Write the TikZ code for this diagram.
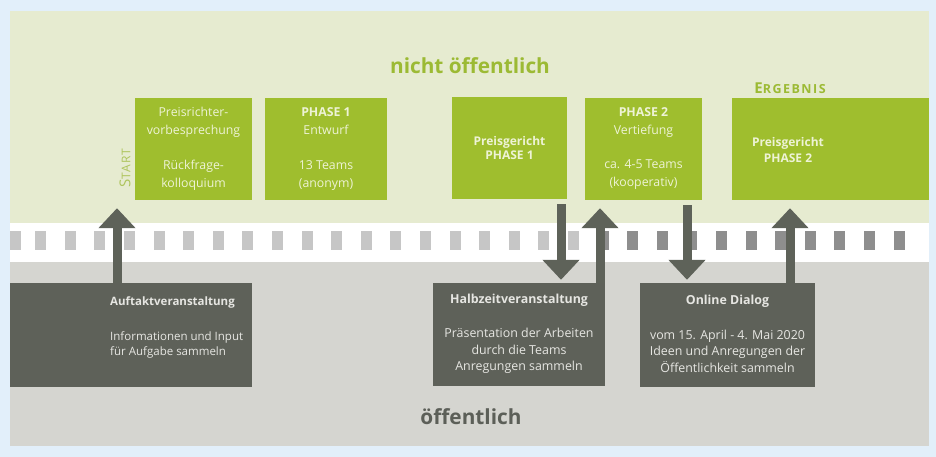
\documentclass[tikz,border=0pt]{standalone}
\usepackage{fontspec}
\setmainfont{Open Sans}
\usetikzlibrary{arrows.meta}
\definecolor{bgblue}{HTML}{E2EFFA}
\definecolor{lgreen}{HTML}{E6EBD0}
\definecolor{boxgreen}{HTML}{9FBE2E}
\definecolor{txtgreen}{HTML}{9CBA34}
\definecolor{startgreen}{HTML}{AEC45C}
\definecolor{lgrey}{HTML}{D5D5D0}
\definecolor{sqlight}{HTML}{C6C6C6}
\definecolor{sqdark}{HTML}{8E8E8E}
\definecolor{darkbox}{HTML}{5E6159}
\definecolor{arrgrey}{HTML}{5E6259}
\definecolor{boxtxt}{HTML}{EEF3D6}
\definecolor{dtxt}{HTML}{E6E6E2}
\definecolor{pubtxt}{HTML}{5C5F58}
\begin{document}
\begin{tikzpicture}[x=1pt,y=-1pt,
  gbox/.style={fill=boxgreen, draw=none, minimum height=102pt, inner sep=0pt,
    align=center, text=boxtxt, font=\fontsize{12.3}{18}\selectfont},
  dbox/.style={fill=darkbox, draw=none, minimum height=104pt, inner sep=0pt},
  dtext/.style={text=dtxt, inner sep=0pt, font=\fontsize{12.4}{16.5}\selectfont},
  arr/.style={draw=arrgrey, line width=9pt, -{Triangle[width=36pt,length=20pt]}},
  sq/.style={inner sep=0pt, minimum width=11pt, minimum height=19pt, draw=none}
]
% background
\fill[bgblue] (0,0) rectangle (936,457);
\useasboundingbox (0,0) rectangle (936,457);
\fill[lgreen] (10,11) rectangle (929,223);
\fill[white] (10,223) rectangle (929,262);
\fill[lgrey] (10,262) rectangle (929,446);
% dashed strip of squares
\fill[sqlight] (10,231) rectangle (21,250);
\foreach \k in {1,...,30}{
  \pgfmathsetmacro{\xx}{35+29.6*(\k-1)}
  \pgfmathparse{\xx<595 ? 1 : 0}
  \ifnum\pgfmathresult=1
    \node[sq, fill=sqlight, anchor=north west] (sq\k) at (\xx,231) {};
  \else
    \node[sq, fill=sqdark, anchor=north west] (sq\k) at (\xx,231) {};
  \fi
}
% titles
\node[text=txtgreen, font=\fontsize{20.8}{24}\selectfont\bfseries] (nicht) at (470,66) {nicht öffentlich};
\node[text=pubtxt, font=\fontsize{20.8}{24}\selectfont\bfseries] (oeff) at (471,417) {öffentlich};
\node[text=txtgreen, font=\bfseries\addfontfeature{LetterSpace=12}] (erg) at (790,88)
  {{\fontsize{15}{17}\selectfont E}{\fontsize{12.5}{17}\selectfont RGEBNIS}};
\node[text=startgreen, rotate=90, font=\addfontfeature{LetterSpace=10}] (start) at (125,168)
  {{\fontsize{15}{17}\selectfont S}{\fontsize{12}{17}\selectfont TART}};
% green boxes
\node[gbox, minimum width=117pt] (b1) at (193.5,149)
  {Preisrichter-\\vorbesprechung\\[17pt]Rückfrage-\\kolloquium};
\node[gbox, minimum width=122pt] (b2) at (326,149)
  {\textbf{PHASE 1}\\Entwurf\\[17pt]13 Teams\\(anonym)};
\node[gbox, minimum width=115pt, font=\fontsize{12}{13.5}\selectfont\bfseries] (b3) at (509.5,148)
  {Preisgericht\\PHASE 1};
\node[gbox, minimum width=117pt] (b4) at (643.5,149)
  {\textbf{PHASE 2}\\Vertiefung\\[16pt]ca. 4-5 Teams\\(kooperativ)};
\node[gbox, minimum width=197pt] (b5) at (830.5,149) {};
\node[text=boxtxt, align=center, inner sep=0pt, font=\fontsize{12}{16}\selectfont\bfseries] (b5t) at (788,150)
  {Preisgericht\\PHASE 2};
% dark boxes
\node[dbox, minimum width=242pt] (auf) at (131,335) {};
\node[dtext, align=left, anchor=west, font=\fontsize{11.5}{15}\selectfont] (auft) at (110,327)
  {\textbf{Auftaktveranstaltung}\\[20pt]Informationen und Input\\für Aufgabe sammeln};
\node[dbox, minimum width=172pt, minimum height=103pt] (halb) at (519,334.5)
  {};
\node[dtext, align=center] (halbt) at (519,334)
  {\textbf{Halbzeitveranstaltung}\\[18pt]Präsentation der Arbeiten\\durch die Teams\\Anregungen sammeln};
\node[dbox, minimum width=175pt] (onl) at (727.5,335) {};
\node[dtext, align=center] (onlt) at (727.5,334)
  {\textbf{Online Dialog}\\[18pt]vom 15. April - 4. Mai 2020\\Ideen und Anregungen der\\Öffentlichkeit sammeln};
% arrow x positions
\coordinate (x1) at (117,0);
\coordinate (x2) at (561,0);
\coordinate (x3) at (600,0);
\coordinate (x4) at (687,0);
\coordinate (x5) at (790,0);
% arrows
\draw[arr, shorten >=8pt] (auf.north -| x1) -- (b1.south -| x1);
\draw[arr, shorten <=5pt, shorten >=3pt] (b3.south -| x2) -- (halb.north -| x2);
\draw[arr, shorten >=8pt] (halb.north -| x3) -- (b4.south -| x3);
\draw[arr, shorten <=5pt, shorten >=3pt] (b4.south -| x4) -- (onl.north -| x4);
\draw[arr, shorten >=8pt] (onl.north -| x5) -- (b5.south -| x5);
\end{tikzpicture}
\end{document}
